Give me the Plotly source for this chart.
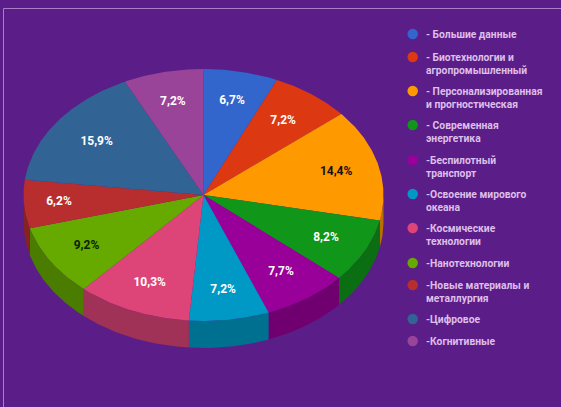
import numpy as np
import plotly.graph_objects as go

categories = ["- Большие данные", "- Биотехнологии и<br>агропромышленный",
              "- Персонализированная<br>и прогностическая", "- Современная<br>энергетика",
              "-Беспилотный<br>транспорт", "-Освоение мирового<br>океана",
              "-Космические<br>технологии", "-Нанотехнологии",
              "-Новые материалы и<br>металлургия", "-Цифровое", "-Когнитивные"]
values = [6.7, 7.2, 14.4, 8.2, 7.7, 7.2, 10.3, 9.2, 6.2, 15.9, 7.2]
colors = ["#3366CC", "#DC3912", "#FF9900", "#109618", "#990099", "#0099C6",
          "#DD4477", "#66AA00", "#B82E2E", "#316395", "#994499"]
label_colors = ["white", "white", "#111111", "white", "white", "white",
                "white", "#0a2200", "white", "white", "white"]
label_radius = [0.76, 0.735, 0.76, 0.76, 0.75, 0.76, 0.76, 0.765, 0.805, 0.73, 0.76]
legend_y = [34, 57, 91, 125, 160, 194, 228, 263, 285, 319, 341]

W, H = 561, 407
BG = "#5B1D88"
CX, CY, RX, RY, DEPTH = 203.5, 195, 180, 126, 27


def darker(hex_color, k=0.73):
    r, g, b = (int(hex_color[i:i + 2], 16) for i in (1, 3, 5))
    return f"rgb({r * k:.0f},{g * k:.0f},{b * k:.0f})"


def arc(a0, a1, dy=0.0):
    t = np.radians(np.linspace(a0, a1, max(2, int(abs(a1 - a0)) * 2)))
    return CX + RX * np.sin(t), CY - RY * np.cos(t) + dy


edges = np.concatenate([[0], np.cumsum(values)]) / sum(values) * 360
fig = go.Figure()


def poly(x, y, color):
    fig.add_trace(go.Scatter(x=x, y=y, mode="lines", fill="toself", fillcolor=color,
                             line=dict(width=0, color=color), hoverinfo="skip",
                             showlegend=False))


# side walls: only the part of each slice that faces the viewer
for a0, a1, c in zip(edges[:-1], edges[1:], colors):
    lo, hi = max(a0, 90), min(a1, 270)
    if hi > lo:
        xt, yt = arc(lo, hi)
        xb, yb = arc(hi, lo, DEPTH)
        poly(np.r_[xt, xb], np.r_[yt, yb], darker(c))

# top faces
for a0, a1, c in zip(edges[:-1], edges[1:], colors):
    x, y = arc(a0, a1)
    poly(np.r_[CX, x, CX], np.r_[CY, y, CY], c)

# percentage labels
mid = np.radians((edges[:-1] + edges[1:]) / 2)
rad = np.array(label_radius)
fig.add_trace(go.Scatter(
    x=CX + rad * RX * np.sin(mid), y=CY - rad * RY * np.cos(mid), mode="text",
    text=[f"{v:.1f}%".replace(".", ",") for v in values],
    textfont=dict(family="Roboto", size=12, color=label_colors, weight=700),
    hoverinfo="skip", showlegend=False))

# legend
fig.add_trace(go.Scatter(x=[412.7] * len(legend_y), y=legend_y, mode="markers",
                         marker=dict(size=10.5, color=colors), hoverinfo="skip",
                         showlegend=False))
annotations = [dict(x=425.5, y=yy - 6.5, xref="x", yref="y", text=t, showarrow=False,
                    xanchor="left", yanchor="top", align="left", borderpad=0, borderwidth=0,
                    font=dict(family="Roboto", size=10.3, color="#DDBFEA", weight=700))
               for t, yy in zip(categories, legend_y)]

fig.update_layout(
    width=W, height=H, autosize=False, margin=dict(l=0, r=0, t=0, b=0),
    paper_bgcolor=BG, plot_bgcolor=BG, annotations=annotations,
    xaxis=dict(range=[0, W], visible=False, fixedrange=True),
    yaxis=dict(range=[H, 0], visible=False, fixedrange=True),
    shapes=[dict(type="line", x0=3.5, x1=W, y0=8.5, y1=8.5, xref="x", yref="y",
                 line=dict(color="#A77FC4", width=1)),
            dict(type="line", x0=3.5, x1=3.5, y0=8.5, y1=H, xref="x", yref="y",
                 line=dict(color="#A77FC4", width=1))],
)
fig.write_html("out.html", config=dict(displayModeBar=False),
               post_script="document.documentElement.style.background='%s';"
                           "document.body.style.margin='0';"
                           "document.body.style.overflow='hidden';" % BG)
